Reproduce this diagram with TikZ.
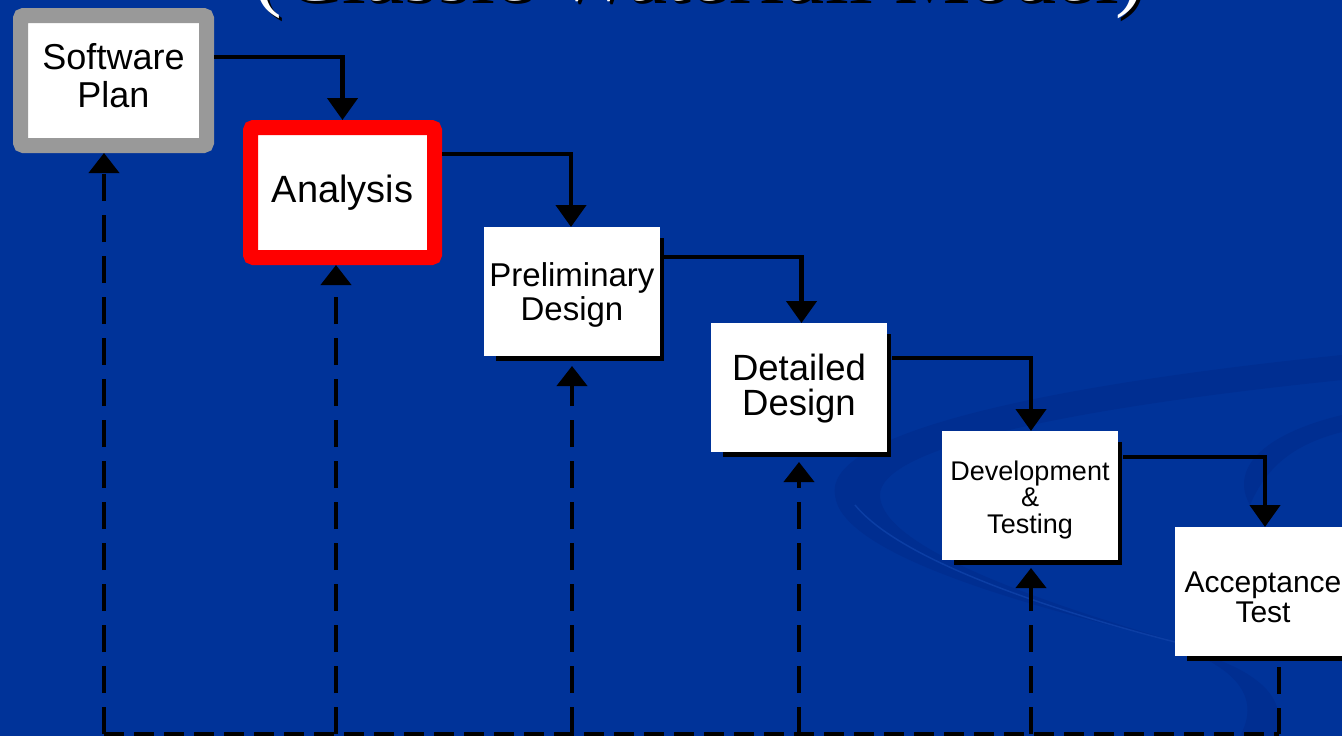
\documentclass[tikz,border=0pt]{standalone}
\usepackage{fontspec}
\setmainfont{Liberation Sans}
\newfontfamily\titlefont{Liberation Serif}
\usetikzlibrary{arrows.meta,shadows}
\definecolor{bg}{RGB}{0,51,153}
\definecolor{swirl}{RGB}{0,46,145}
\definecolor{swirllight}{RGB}{12,62,164}
\definecolor{plangray}{RGB}{153,153,153}
\definecolor{alarm}{RGB}{255,0,0}
\begin{document}
\begin{tikzpicture}[x=1pt,y=-1pt,
  stage/.style={fill=white, inner sep=0pt, outer sep=0pt, minimum width=176pt, minimum height=129pt,
    align=center, text=black, text depth=0pt,
    general shadow={fill=black, shadow xshift=8.5pt, shadow yshift=-8.5pt, shadow scale=0.952}},
  framed/.style={fill=white, inner sep=0pt, line width=15pt, align=center, text=black},
  flow/.style={draw=black, line width=4.5pt, -{Triangle[width=30pt,length=22pt]}},
  feedback/.style={draw=black, line width=4pt, dash pattern=on 27pt off 14pt, -{Triangle[width=30pt,length=20pt]}},
  feedtail/.style={draw=black, line width=4pt, dash pattern=on 27pt off 14pt},
  feedbase/.style={draw=black, line width=4pt, dash pattern=on 20pt off 10pt},
]
\useasboundingbox (0,0) rectangle (1342,736);
\clip (0,0) rectangle (1342,736);
\fill[bg] (0,0) rectangle (1342,736);
% background swirl
\fill[swirl] (835,495) .. controls (825,440) and (1000,390) .. (1342,355) -- (1342,380)
  .. controls (1050,410) and (880,450) .. (880,495) .. controls (880,540) and (1000,590) .. (1170,640)
  .. controls (1000,600) and (840,550) .. (835,495) -- cycle;
\fill[swirl] (1342,415) .. controls (1260,435) and (1230,470) .. (1250,505)
  .. controls (1265,470) and (1290,445) .. (1342,432) -- cycle;
\fill[swirl] (1180,648) .. controls (1260,668) and (1290,700) .. (1275,736) -- (1240,736)
  .. controls (1260,700) and (1240,670) .. (1180,648) -- cycle;
\draw[swirllight, line width=1.5pt] (855,505) .. controls (900,560) and (1050,610) .. (1175,642);
% title (cut off by the top edge)
\node[anchor=base, font=\titlefont\fontsize{86}{86}\selectfont, text=black] (titleshadow) at (702,4) {(Classic Waterfall Model)};
\node[anchor=base, font=\titlefont\fontsize{86}{86}\selectfont, text=white] (title) at (699,1) {(Classic Waterfall Model)};
% stages
\node[framed, draw=plangray, rounded corners=3pt, minimum width=186pt, minimum height=130pt,
  font=\fontsize{36}{38}\selectfont, text height=53pt, text depth=0pt] (sp) at (113.5,80.5) {Software\\Plan};
\node[framed, draw=alarm, rounded corners=3pt, minimum width=184pt, minimum height=130pt,
  font=\fontsize{38}{40}\selectfont] (an) at (342.5,192.5) {Analysis};
\node[stage, font=\fontsize{33}{34}\selectfont, text height=57pt] (pd) at (572,291.5) {Preliminary\\Design};
\node[stage, font=\fontsize{36.5}{35}\selectfont, text height=55pt] (dd) at (799,387.5) {Detailed\\Design};
\node[stage, font=\fontsize{27}{26.5}\selectfont, text height=75pt] (dev) at (1030,495.5) {Development\\\&\\Testing};
\node[stage, font=\fontsize{30}{30}\selectfont, text height=61pt] (at) at (1263,591.5) {Acceptance\\Test};
% forward flow
\draw[flow] ([yshift=23.5pt]sp.east) -| (an.north);
\draw[flow] ([yshift=38.5pt]an.east) -| ([xshift=-1pt]pd.north);
\draw[flow] ([yshift=34.5pt,xshift=4pt]pd.east) -| ([xshift=2.5pt]dd.north);
\draw[flow] ([yshift=29.5pt,xshift=5pt]dd.east) -| ([xshift=1pt]dev.north);
\draw[flow] ([yshift=38.5pt,xshift=5pt]dev.east) -| ([xshift=2pt]at.north);
% feedback
\coordinate (b1) at (104,734);
\coordinate (b2) at (336,734);
\coordinate (b3) at (572,734);
\coordinate (b4) at (799,734);
\coordinate (b5) at (1031,734);
\coordinate (b6) at (1279,734);
\draw[feedbase] (b1) -- (b6);
\draw[feedback] (b1) -- (b1 |- sp.south);
\draw[feedback] (b2) -- (b2 |- an.south);
\draw[feedback] (b3) -- ([yshift=-10pt]b3 |- pd.south);
\draw[feedback] (b4) -- ([yshift=-10pt]b4 |- dd.south);
\draw[feedback] (b5) -- ([yshift=-8pt]b5 |- dev.south);
\draw[feedtail] ([yshift=-11pt]b6 |- at.south) -- (b6);
\end{tikzpicture}
\end{document}
